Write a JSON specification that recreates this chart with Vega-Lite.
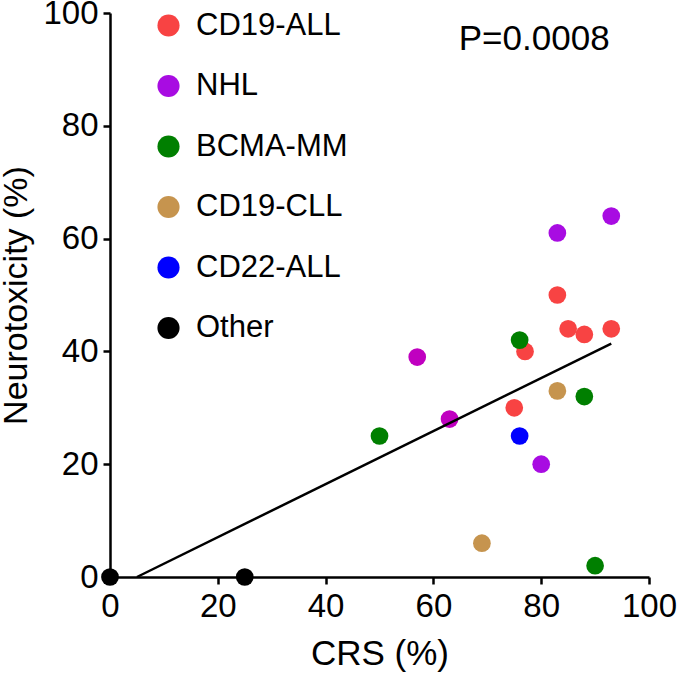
{
  "$schema": "https://vega.github.io/schema/vega-lite/v6.json",
  "width": 539,
  "height": 564,
  "autosize": {"type": "none"},
  "padding": {"left": 110, "top": 13, "right": 28, "bottom": 97},
  "background": "white",
  "config": {
    "view": {"stroke": null},
    "font": "Liberation Sans"
  },
  "datasets": {
    "pts": [
      {"crs": 83, "neuro": 50, "group": "CD19-ALL", "shade": "n"},
      {"crs": 85, "neuro": 44, "group": "CD19-ALL", "shade": "n"},
      {"crs": 88, "neuro": 43, "group": "CD19-ALL", "shade": "n"},
      {"crs": 93, "neuro": 44, "group": "CD19-ALL", "shade": "n"},
      {"crs": 77, "neuro": 40, "group": "CD19-ALL", "shade": "n"},
      {"crs": 75, "neuro": 30, "group": "CD19-ALL", "shade": "n"},
      {"crs": 93, "neuro": 64, "group": "NHL", "shade": "n"},
      {"crs": 83, "neuro": 61, "group": "NHL", "shade": "n"},
      {"crs": 57, "neuro": 39, "group": "NHL", "shade": "m"},
      {"crs": 63, "neuro": 28, "group": "NHL", "shade": "m"},
      {"crs": 80, "neuro": 20, "group": "NHL", "shade": "n"},
      {"crs": 76, "neuro": 42, "group": "BCMA-MM", "shade": "n"},
      {"crs": 88, "neuro": 32, "group": "BCMA-MM", "shade": "n"},
      {"crs": 50, "neuro": 25, "group": "BCMA-MM", "shade": "n"},
      {"crs": 90, "neuro": 2, "group": "BCMA-MM", "shade": "n"},
      {"crs": 83, "neuro": 33, "group": "CD19-CLL", "shade": "n"},
      {"crs": 69, "neuro": 6, "group": "CD19-CLL", "shade": "n"},
      {"crs": 76, "neuro": 25, "group": "CD22-ALL", "shade": "n"},
      {"crs": 0, "neuro": 0, "group": "Other", "shade": "n"},
      {"crs": 25, "neuro": 0, "group": "Other", "shade": "n"}
    ],
    "fit": [
      {"crs": 5, "neuro": 0},
      {"crs": 93, "neuro": 41.4}
    ],
    "note": [
      {"crs": 78.7, "neuro": 93.4, "label": "P=0.0008"}
    ]
  },
  "layer": [
    {
      "data": {"name": "pts"},
      "mark": {"type": "circle", "size": 314, "opacity": 1},
      "encoding": {
        "x": {
          "field": "crs", "type": "quantitative",
          "scale": {"domain": [0, 100], "nice": false},
          "axis": {
            "title": "CRS (%)", "values": [0, 20, 40, 60, 80, 100],
            "grid": false, "domainColor": "black", "domainWidth": 2.5,
            "tickColor": "black", "tickWidth": 2.5, "tickSize": 7,
            "labelFontSize": 33, "labelColor": "black", "labelPadding": 6,
            "labelFlush": false, "labelOverlap": false,
            "titleFontSize": 35, "titleFontWeight": "normal", "titleColor": "black",
            "titlePadding": 13
          }
        },
        "y": {
          "field": "neuro", "type": "quantitative",
          "scale": {"domain": [0, 100], "nice": false},
          "axis": {
            "title": "Neurotoxicity (%)", "values": [0, 20, 40, 60, 80, 100],
            "grid": false, "domainColor": "black", "domainWidth": 2.5,
            "tickColor": "black", "tickWidth": 2.5, "tickSize": 7,
            "labelFontSize": 33, "labelColor": "black", "labelPadding": 5,
            "labelFlush": false, "labelOverlap": false,
            "titleFontSize": 34, "titleFontWeight": "normal", "titleColor": "black",
            "titlePadding": 9
          }
        },
        "color": {
          "condition": {"test": "datum.shade === 'm'", "value": "#C000C0"},
          "field": "group", "type": "nominal",
          "scale": {
            "domain": ["CD19-ALL", "NHL", "BCMA-MM", "CD19-CLL", "CD22-ALL", "Other"],
            "range": ["#F84343", "#A80CE2", "#007F00", "#C6944E", "#0000FF", "#000000"]
          },
          "legend": {
            "title": null, "orient": "none", "legendX": 43, "legendY": -3,
            "padding": 0, "symbolType": "circle", "symbolSize": 490,
            "symbolStrokeWidth": 0, "symbolOpacity": 1,
            "labelFontSize": 31, "labelColor": "black", "labelOffset": 12,
            "rowPadding": 28.5, "labelLimit": 300
          }
        }
      }
    },
    {
      "data": {"name": "fit"},
      "mark": {"type": "line", "color": "black", "strokeWidth": 2.5},
      "encoding": {
        "x": {"field": "crs", "type": "quantitative"},
        "y": {"field": "neuro", "type": "quantitative"}
      }
    },
    {
      "data": {"name": "note"},
      "mark": {"type": "text", "fontSize": 35, "color": "black", "align": "center", "baseline": "alphabetic"},
      "encoding": {
        "x": {"field": "crs", "type": "quantitative"},
        "y": {"field": "neuro", "type": "quantitative"},
        "text": {"field": "label"}
      }
    }
  ]
}
